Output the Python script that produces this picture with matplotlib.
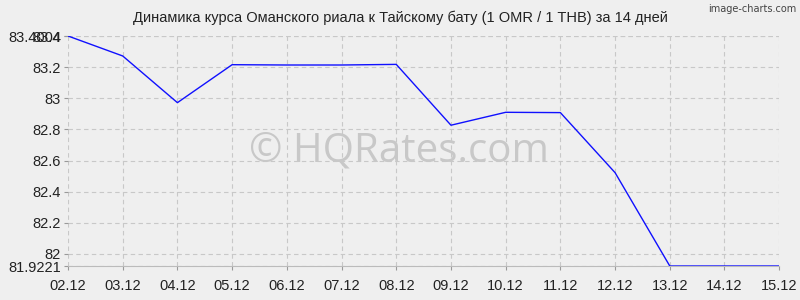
import matplotlib
matplotlib.use('Agg')
import matplotlib.pyplot as plt

plt.rcParams['font.family'] = ['Liberation Sans', 'DejaVu Sans']

# daily OMR/THB rates
dates = ['02.12', '03.12', '04.12', '05.12', '06.12', '07.12', '08.12',
         '09.12', '10.12', '11.12', '12.12', '13.12', '14.12', '15.12']
rates = [83.4004, 83.272, 82.972, 83.216, 83.214, 83.214, 83.218,
         82.827, 82.910, 82.908, 82.522, 81.9221, 81.9221, 81.9221]
y_ticks = [82.0, 82.2, 82.4, 82.6, 82.8, 83.0, 83.2, 83.4]
y_labels = ['82', '82.2', '82.4', '82.6', '82.8', '83', '83.2', '83.4']

bg = '#efefef'
fig = plt.figure(figsize=(8, 3), dpi=100, facecolor=bg)
ax = fig.add_axes([0.085, 0.1133, 0.889, 0.7667], facecolor=bg)

x = list(range(len(dates)))
ax.plot(x, rates, color='#1010ff', linewidth=1.0, zorder=3)

y_min, y_max = min(rates), max(rates)
ax.set_xlim(0, len(dates) - 1)
ax.set_ylim(y_min, y_max)

# grid ticks plus min/max labels, like the original
ax.set_yticks(y_ticks + [y_min, y_max])
ax.set_yticklabels(y_labels + [f'{y_min:g}', f'{y_max:g}'])
ax.set_xticks(x)
ax.set_xticklabels(dates)
ax.tick_params(axis='both', labelsize=10.5, colors='#999999', labelcolor='#222222',
               length=3, width=0.8)
ax.tick_params(axis='x', pad=6)
ax.tick_params(axis='y', pad=2)

ax.grid(True, color='#c8c8c8', linestyle=(0, (4, 3)), linewidth=0.8)
for side in ['top', 'right', 'left']:
    ax.spines[side].set_visible(False)
ax.spines['bottom'].set_color('#bbbbbb')

fig.text(0.5, 0.94, 'Динамика курса Оманского риала к Тайскому бату (1 OMR / 1 THB) за 14 дней',
         ha='center', va='center', fontsize=10.5, color='#222222')
fig.text(0.995, 0.985, 'image-charts.com', ha='right', va='top',
         fontsize=7, color='#444444', family='DejaVu Sans')
fig.text(0.4985, 0.497, '© HQRates.com', ha='center', va='center',
         fontsize=29, color='#c8c8c8', family='Open Sans', zorder=1)

fig.savefig('out.png', dpi=100, facecolor=bg)
